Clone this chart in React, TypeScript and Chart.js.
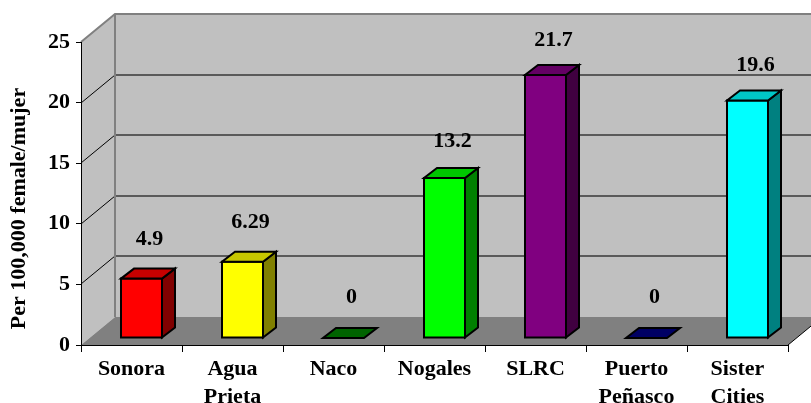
import { useEffect, useRef } from 'react';
import { Chart, registerables } from 'chart.js';

Chart.register(...registerables);

// ---- data ----
const categories: string[][] = [
  ['Sonora'],
  ['Agua', 'Prieta'],
  ['Naco'],
  ['Nogales'],
  ['SLRC'],
  ['Puerto', 'Peñasco'],
  ['Sister', 'Cities'],
];
const rates: number[] = [4.9, 6.29, 0, 13.2, 21.7, 0, 19.6];
const barColors: string[] = ['#FF0000', '#FFFF00', '#008000', '#00FF00', '#800080', '#000080', '#00FFFF'];
const yTicks: number[] = [0, 5, 10, 15, 20, 25];
const yTitle = 'Per 100,000 female/mujer';

// ---- styling ----
const FONT = "'Times New Roman', 'Liberation Serif', serif";
const DEPTH = { dx: 34, dy: -28 };
const BAR_SHIFT = { dx: 10, dy: -7 };
const BAR_DEPTH = { dx: 13, dy: -10 };

function shade(hex: string, f: number): string {
  const n = parseInt(hex.slice(1), 16);
  const r = Math.round(((n >> 16) & 255) * f);
  const g = Math.round(((n >> 8) & 255) * f);
  const b = Math.round((n & 255) * f);
  return `rgb(${r},${g},${b})`;
}

function poly(ctx: CanvasRenderingContext2D, pts: number[][]) {
  ctx.beginPath();
  ctx.moveTo(pts[0][0], pts[0][1]);
  for (let i = 1; i < pts.length; i++) ctx.lineTo(pts[i][0], pts[i][1]);
  ctx.closePath();
}

const threeD = {
  id: 'threeD',
  beforeDraw(chart: any) {
    const { ctx, chartArea: a, scales } = chart;
    const y = scales.y;
    const W = chart.width;
    const L = a.left, R = a.right, T = a.top, B = a.bottom;
    const bx = L + DEPTH.dx;
    const dy = DEPTH.dy;
    ctx.save();
    // back wall
    ctx.fillStyle = '#C0C0C0';
    ctx.fillRect(bx, T + dy, W - bx + 60, B - T);
    // left wall
    poly(ctx, [[L, T], [bx, T + dy], [bx, B + dy], [L, B]]);
    ctx.fill();
    // floor
    ctx.fillStyle = '#808080';
    poly(ctx, [[L, B], [bx, B + dy], [R + DEPTH.dx, B + dy], [R, B]]);
    ctx.fill();
    // gridlines
    for (const v of yTicks) {
      if (v === yTicks[0] || v === yTicks[yTicks.length - 1]) continue;
      const yy = Math.round(y.getPixelForValue(v));
      ctx.strokeStyle = '#5a5a5a';
      ctx.lineWidth = 2;
      ctx.beginPath();
      ctx.moveTo(bx, yy + dy);
      ctx.lineTo(W + 5, yy + dy);
      ctx.stroke();
      ctx.strokeStyle = '#000';
      ctx.lineWidth = 1;
      ctx.beginPath();
      ctx.moveTo(L, yy);
      ctx.lineTo(bx, yy + dy);
      ctx.stroke();
    }
    // wall edges
    ctx.strokeStyle = '#808080';
    ctx.lineWidth = 2;
    ctx.beginPath();
    ctx.moveTo(L, T);
    ctx.lineTo(bx, T + dy);
    ctx.lineTo(W + 5, T + dy);
    ctx.moveTo(bx, T + dy);
    ctx.lineTo(bx, B + dy);
    ctx.stroke();
    // floor right edge
    ctx.strokeStyle = '#000';
    ctx.lineWidth = 1;
    ctx.beginPath();
    ctx.moveTo(R, B);
    ctx.lineTo(R + DEPTH.dx, B + dy);
    ctx.stroke();
    // y axis title
    ctx.translate(19, (T + B) / 2 + 15);
    ctx.rotate(-Math.PI / 2);
    ctx.fillStyle = '#000';
    ctx.font = `bold 22px ${FONT}`;
    ctx.textAlign = 'center';
    ctx.textBaseline = 'middle';
    ctx.fillText(yTitle, 0, 0);
    ctx.restore();
  },
  beforeDatasetDraw() {
    return false;
  },
  afterDatasetsDraw(chart: any) {
    const { ctx, scales } = chart;
    const y = scales.y;
    const meta = chart.getDatasetMeta(0);
    const data = chart.data.datasets[0].data as number[];
    ctx.save();
    ctx.lineJoin = 'miter';
    meta.data.forEach((el: any, i: number) => {
      const p = el.getProps(['x', 'y', 'base', 'width'], true);
      const col = barColors[i];
      const l = p.x - p.width / 2 + BAR_SHIFT.dx;
      const r = l + p.width;
      const t = p.y + BAR_SHIFT.dy;
      const b = p.base + BAR_SHIFT.dy;
      const ddx = BAR_DEPTH.dx, ddy = BAR_DEPTH.dy;
      ctx.strokeStyle = '#000';
      ctx.lineWidth = 2;
      if (b - t > 0.5) {
        // front
        ctx.fillStyle = col;
        poly(ctx, [[l, t], [r, t], [r, b], [l, b]]);
        ctx.fill();
        ctx.stroke();
        // side
        ctx.fillStyle = shade(col, 0.5);
        poly(ctx, [[r, t], [r + ddx, t + ddy], [r + ddx, b + ddy], [r, b]]);
        ctx.fill();
        ctx.stroke();
        // top
        ctx.fillStyle = shade(col, 0.78);
      } else {
        ctx.fillStyle = shade(col, 0.78);
      }
      poly(ctx, [[l, t], [r, t], [r + ddx, t + ddy], [l + ddx, t + ddy]]);
      ctx.fill();
      ctx.stroke();
      // value label
      const v = data[i];
      ctx.fillStyle = '#000';
      ctx.font = `bold 22px ${FONT}`;
      ctx.textAlign = 'center';
      ctx.textBaseline = 'middle';
      ctx.fillText(String(v), p.x + 18, y.getPixelForValue(v) - 48 + 0.3 * v);
    });
    ctx.restore();
  },
};

export default function App() {
  const ref = useRef<HTMLCanvasElement>(null);
  useEffect(() => {
    document.body.style.margin = '0';
    const canvas = ref.current!;
    const tickFont = { family: FONT, size: 22, weight: 'bold' as const, lineHeight: 1.27 };
    const chart = new Chart(canvas, {
      type: 'bar',
      data: {
        labels: categories,
        datasets: [
          {
            data: rates,
            backgroundColor: barColors,
            barPercentage: 0.406,
            categoryPercentage: 1,
          },
        ],
      },
      options: {
        responsive: false,
        animation: false,
        devicePixelRatio: 1,
        layout: { padding: { top: 42, right: 23, left: 0, bottom: 0 } },
        plugins: { legend: { display: false }, tooltip: { enabled: false } },
        scales: {
          x: {
            type: 'category',
            offset: true,
            grid: { offset: true, drawOnChartArea: false, drawTicks: true, tickLength: 7, color: '#000' },
            border: { display: true, color: '#000', width: 1 },
            ticks: { color: '#000', font: tickFont, padding: 3, maxRotation: 0, autoSkip: false },
            afterFit(s: any) {
              s.height = 58;
            },
          },
          y: {
            min: 0,
            max: 25,
            ticks: { stepSize: 5, color: '#000', font: tickFont, padding: 6 },
            grid: { drawOnChartArea: false, drawTicks: true, tickLength: 5, color: '#000' },
            border: { display: true, color: '#000', width: 1 },
            afterFit(s: any) {
              s.width = 81;
            },
          },
        },
      },
      plugins: [threeD],
    });
    return () => chart.destroy();
  }, []);
  return (
    <div style={{ width: 811, height: 403, background: '#fff' }}>
      <canvas ref={ref} width={811} height={403} style={{ display: 'block' }} />
    </div>
  );
}
